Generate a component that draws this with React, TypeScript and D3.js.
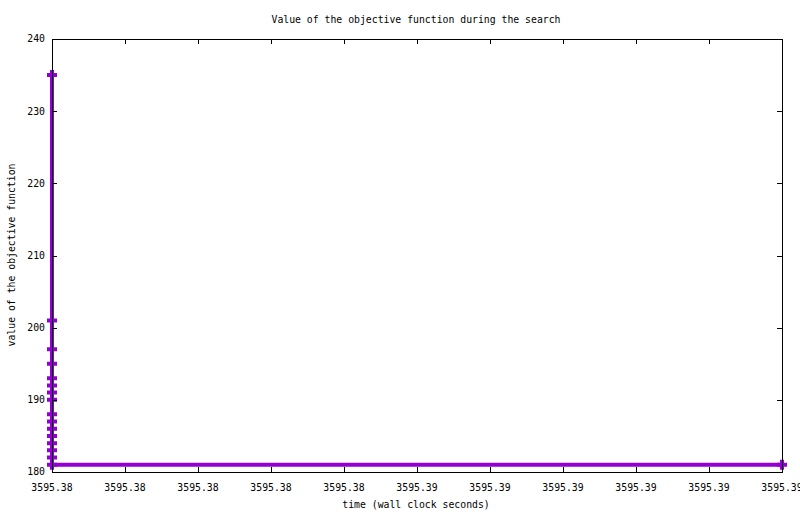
import React, { useEffect, useRef } from 'react';
import * as d3 from 'd3';

// search trace: wall clock time (s) and objective value
const timesSec = [
  3595.38, 3595.38, 3595.38, 3595.38, 3595.38, 3595.38, 3595.38, 3595.38, 3595.38,
  3595.38, 3595.38, 3595.38, 3595.38, 3595.38, 3595.38, 3595.38, 3595.39,
];
const objectiveValues = [235, 201, 197, 195, 193, 192, 191, 190, 188, 187, 186, 185, 184, 183, 182, 181, 181];

const xTickValues = [3595.38, 3595.381, 3595.382, 3595.383, 3595.384, 3595.385, 3595.386, 3595.387, 3595.388, 3595.389, 3595.39];
const xTickLabels = ['3595.38', '3595.38', '3595.38', '3595.38', '3595.38', '3595.39', '3595.39', '3595.39', '3595.39', '3595.39', '3595.39'];
const yTickValues = [180, 190, 200, 210, 220, 230, 240];

const App: React.FC = () => {
  const ref = useRef<SVGSVGElement>(null);

  useEffect(() => {
    const width = 800;
    const height = 514;
    const left = 52, right = 782, top = 39, bottom = 472;
    const font = "'DejaVu Sans Mono', monospace";
    const fs = '9.8px';
    const color = '#9400d3';

    const svg = d3.select(ref.current);
    svg.selectAll('*').remove();

    svg.append('rect').attr('width', width).attr('height', height).attr('fill', '#fff');

    const x = d3.scaleLinear().domain([3595.38, 3595.39]).range([left, right]);
    const y = d3.scaleLinear().domain([180, 240]).range([bottom, top]);

    const pts: [number, number][] = timesSec.map((t, i) => [t, objectiveValues[i]]);

    // data line
    const line = d3.line<[number, number]>().x(d => x(d[0])).y(d => y(d[1]));
    svg.append('path')
      .attr('d', line(pts))
      .attr('fill', 'none')
      .attr('stroke', color)
      .attr('stroke-width', 4);

    // plus markers
    svg.selectAll('path.mark')
      .data(pts)
      .enter()
      .append('path')
      .attr('class', 'mark')
      .attr('transform', d => `translate(${x(d[0])},${y(d[1])})`)
      .attr('d', 'M-5,0H5M0,-5V5')
      .attr('stroke', color)
      .attr('stroke-width', 4)
      .attr('fill', 'none');

    // frame and mirrored ticks
    const g = svg.append('g').attr('shape-rendering', 'crispEdges').attr('stroke', '#000');
    g.append('rect')
      .attr('x', left + 0.5).attr('y', top + 0.5)
      .attr('width', right - left).attr('height', bottom - top)
      .attr('fill', 'none');

    xTickValues.forEach(v => {
      const px = Math.round(x(v)) + 0.5;
      g.append('line').attr('x1', px).attr('x2', px).attr('y1', bottom).attr('y2', bottom - 5);
      g.append('line').attr('x1', px).attr('x2', px).attr('y1', top).attr('y2', top + 5);
    });
    yTickValues.forEach(v => {
      const py = Math.round(y(v)) + 0.5;
      g.append('line').attr('x1', left).attr('x2', left + 5).attr('y1', py).attr('y2', py);
      g.append('line').attr('x1', right).attr('x2', right - 5).attr('y1', py).attr('y2', py);
    });

    const txt = svg.append('g').style('font-family', font).style('font-size', fs).attr('fill', '#000');

    txt.selectAll('text.xt')
      .data(xTickValues)
      .enter()
      .append('text')
      .attr('x', d => x(d))
      .attr('y', 491)
      .attr('text-anchor', 'middle')
      .text((_, i) => xTickLabels[i]);

    txt.selectAll('text.yt')
      .data(yTickValues)
      .enter()
      .append('text')
      .attr('x', 45)
      .attr('y', d => y(d))
      .attr('dy', '0.35em')
      .attr('text-anchor', 'end')
      .text(d => String(d));

    txt.append('text')
      .attr('x', 416).attr('y', 23)
      .attr('text-anchor', 'middle')
      .text('Value of the objective function during the search');

    txt.append('text')
      .attr('x', 416).attr('y', 508)
      .attr('text-anchor', 'middle')
      .text('time (wall clock seconds)');

    txt.append('text')
      .attr('transform', 'translate(12,255) rotate(-90)')
      .attr('dy', '0.35em')
      .attr('text-anchor', 'middle')
      .text('value of the objective function');
  }, []);

  return (
    <svg
      ref={ref}
      width={800}
      height={514}
      style={{ position: 'absolute', left: 0, top: 0, display: 'block' }}
    />
  );
};

export default App;
